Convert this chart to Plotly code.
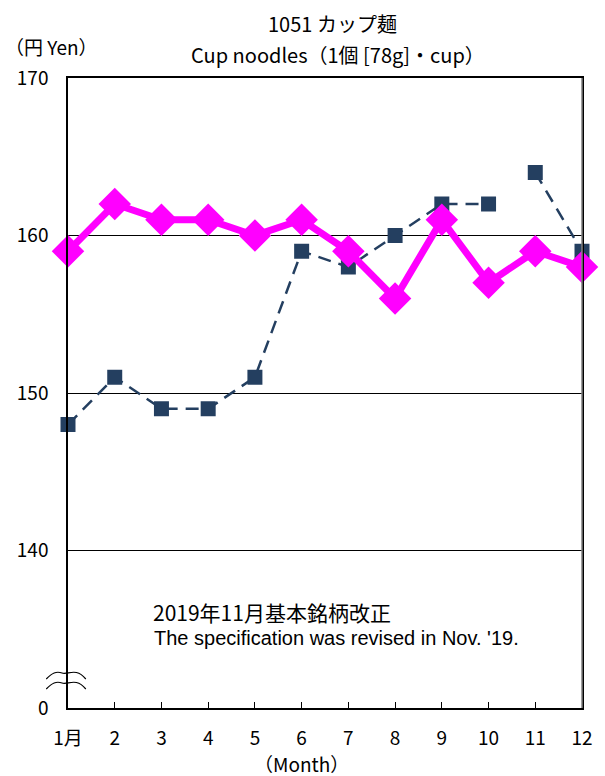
import plotly.graph_objects as go

months = list(range(1, 13))
month_labels = ["1月", "2", "3", "4", "5", "6", "7", "8", "9", "10", "11", "12"]
tokyo = [159, 162, 161, 161, 160, 161, 159, 156, 161, 157, 159, 158]
old_spec_months = [1, 2, 3, 4, 5, 6, 7, 8, 9, 10]
old_spec = [148, 151, 149, 149, 151, 159, 158, 160, 162, 162]
new_spec_months = [11, 12]
new_spec = [164, 159]
ytick_vals = [130, 140, 150, 160, 170]
ytick_text = ["0", "140", "150", "160", "170"]

NAVY = "#243F60"
MAG = "#FF00FF"
FONT = "Noto Sans CJK JP"

W, H = 605, 776
L, R, T, B = 68, 17, 78, 68
pw, ph = W - L - R, H - T - B


def px_x(v):
    return (v - L) / pw


def px_y(v):
    return 1 - (v - T) / ph


fig = go.Figure()
for xs, ys in ((old_spec_months, old_spec), (new_spec_months, new_spec)):
    fig.add_trace(go.Scatter(x=xs, y=ys, mode="lines+markers",
                             line=dict(color=NAVY, width=2.5, dash="13px,8px"),
                             marker=dict(symbol="square", size=15, color=NAVY),
                             cliponaxis=False, showlegend=False, hoverinfo="skip"))
fig.add_trace(go.Scatter(x=months, y=tokyo, mode="lines+markers",
                         line=dict(color=MAG, width=7),
                         marker=dict(symbol="diamond", size=25, color=MAG),
                         cliponaxis=False, showlegend=False, hoverinfo="skip"))

ann = []


def add_text(text, x, y, size, anchor="center", family=FONT):
    ann.append(dict(text=text, x=px_x(x), y=px_y(y), xref="paper", yref="paper",
                    xanchor=anchor, yanchor="middle", showarrow=False,
                    font=dict(size=size, family=family, color="black")))


add_text("1051 カップ麺", 336, 23, 20)
add_text("Cup noodles（1個 [78g]・cup）", 341, 55, 20)
add_text("（円 Yen）", 2, 47, 19, anchor="left")
add_text("（Month）", 304, 763, 19)
add_text("2019年11月基本銘柄改正", 152, 612, 21, anchor="left")
add_text("The specification was revised in Nov. '19.", 153, 638, 20, anchor="left",
         family="Liberation Sans")

fig.update_layout(
    width=W, height=H,
    margin=dict(l=L, r=R, t=T, b=B, pad=0),
    paper_bgcolor="white", plot_bgcolor="white",
    font=dict(family=FONT, size=19, color="black"),
    hovermode=False,
    xaxis=dict(range=[1, 12], tickvals=months, ticktext=month_labels,
               showgrid=False, showline=True, linecolor="black", linewidth=1.5,
               mirror=True, ticks="inside", ticklen=6, tickcolor="black",
               tickfont=dict(size=19), ticklabelstandoff=12, zeroline=False),
    yaxis=dict(range=[130, 170], tickvals=ytick_vals, ticktext=ytick_text,
               showgrid=True, gridcolor="black", gridwidth=1,
               showline=True, linecolor="black", linewidth=1.5, mirror=True,
               ticks="", tickfont=dict(size=19), ticklabelstandoff=14,
               zeroline=False),
    annotations=ann,
)

# right border in gray
fig.add_shape(type="line", x0=1, x1=1, y0=0, y1=1, xref="paper", yref="paper",
              line=dict(color="#808080", width=1.5))


# axis break symbol (two wavy lines)
def wave(yc):
    p = [(46, yc + 4), (52, yc - 2), (56, yc - 4), (62, yc - 2),
         (76, yc - 8), (86, yc + 4)]
    q = [(px_x(a), px_y(b)) for a, b in p]
    return (f"M {q[0][0]},{q[0][1]} C {q[1][0]},{q[1][1]} "
            f"{q[2][0]},{q[2][1]} {q[3][0]},{q[3][1]} "
            f"S {q[4][0]},{q[4][1]} {q[5][0]},{q[5][1]}")


for yc in (675, 685):
    fig.add_shape(type="path", path=wave(yc), xref="paper", yref="paper",
                  line=dict(color="black", width=1.2))

fig.write_html("out.html", config={"displayModeBar": False},
               post_script="document.body.style.margin='0';document.body.style.overflow='hidden';")
